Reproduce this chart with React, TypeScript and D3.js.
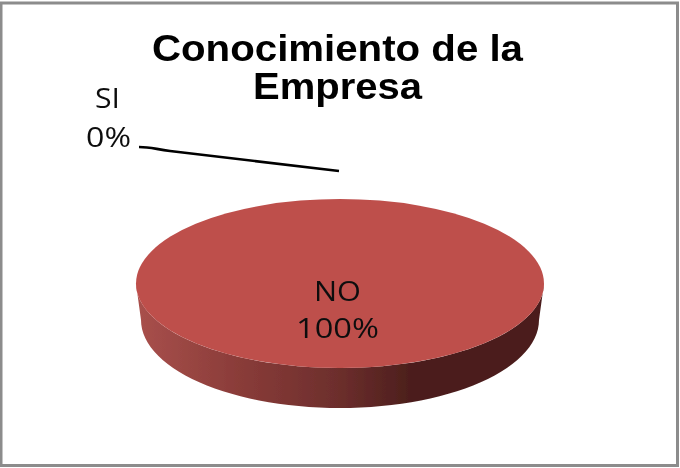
import React from "react";
import * as d3 from "d3";

const categories = ["SI", "NO"];
const seriesValues = [0, 100];
const titleLines = ["Conocimiento de la", "Empresa"];
const titleWidths = [371, 169];
const sliceColors = ["#4F81BD", "#BE4F4C"];

const W = 680, H = 468;
const cx = 340, topY = 283.5, rx = 204, ry = 84.5;
const botY = 320, botRx = 199, botRy = 88;

export default function App() {
  const pct = d3.scaleLinear().domain([0, d3.sum(seriesValues)]).range([0, 100]);
  const arcs = d3.pie<number>().sort(null)(seriesValues);
  const unitArc = d3.arc<d3.PieArcDatum<number>>().innerRadius(0).outerRadius(1);
  const main = arcs[1];
  const front = d3.range(0, 181, 3);
  const edge = d3.line<[number, number]>();
  const upper = front.map((a): [number, number] => {
    const t = (a * Math.PI) / 180;
    return [cx + rx * Math.cos(t), topY + ry * Math.sin(t)];
  });
  const lower = front.slice().reverse().map((a): [number, number] => {
    const t = (a * Math.PI) / 180;
    return [cx + botRx * Math.cos(t), botY + botRy * Math.sin(t)];
  });
  const sidePath = edge([...upper, ...lower]) + "Z";
  const label = (i: number) => `${Math.round(pct(seriesValues[i]))}%`;
  const sans = "'Liberation Sans', Arial, sans-serif";
  const body = "'Open Sans', 'Noto Sans', sans-serif";
  return (
    <svg width={W} height={H} viewBox={`0 0 ${W} ${H}`}
      style={{ position: "absolute", left: 0, top: 0, background: "#fff" }}>
      <defs>
        <linearGradient id="side" gradientUnits="userSpaceOnUse" x1={136} x2={544} y1={0} y2={0}>
          <stop offset="0" stopColor="#A9504C" />
          <stop offset="0.25" stopColor="#8A3C39" />
          <stop offset="0.5" stopColor="#6C2E2C" />
          <stop offset="0.68" stopColor="#4B1E1C" />
          <stop offset="1" stopColor="#4B1E1C" />
        </linearGradient>
        <filter id="soft" x="-5%" y="-5%" width="110%" height="110%">
          <feGaussianBlur stdDeviation="0.7" />
        </filter>
      </defs>
      <rect x={1} y={3} width={676.5} height={462.5} fill="#fff" stroke="#8C8C8C" strokeWidth={3} />
      <g filter="url(#soft)">
        <path d={sidePath} fill="url(#side)" />
        <path
          d={unitArc(main) ?? ""}
          transform={`translate(${cx},${topY}) scale(${rx},${ry})`}
          fill={sliceColors[1]}
        />
        <path d="M139,147 C150,147 155,149 170,151 L339,171" fill="none" stroke="#000" strokeWidth={2.6} />
        <g textAnchor="middle" fontFamily={sans} fontWeight="700" fontSize={36} fill="#000">
          {titleLines.map((t, i) => (
            <text key={t} x={337.5} y={61 + i * 38} textLength={titleWidths[i]} lengthAdjust="spacingAndGlyphs">{t}</text>
          ))}
        </g>
        <g textAnchor="middle" fontFamily={body} fontSize={27} fill="#111">
          <text x={107.5} y={108} textLength={25} lengthAdjust="spacingAndGlyphs">{categories[0]}</text>
          <text x={108.5} y={147} textLength={45} lengthAdjust="spacingAndGlyphs">{label(0)}</text>
          <text x={337.5} y={301} textLength={47} lengthAdjust="spacingAndGlyphs">{categories[1]}</text>
          <text x={337.5} y={338} textLength={83} lengthAdjust="spacingAndGlyphs">{label(1)}</text>
        </g>
      </g>
    </svg>
  );
}
